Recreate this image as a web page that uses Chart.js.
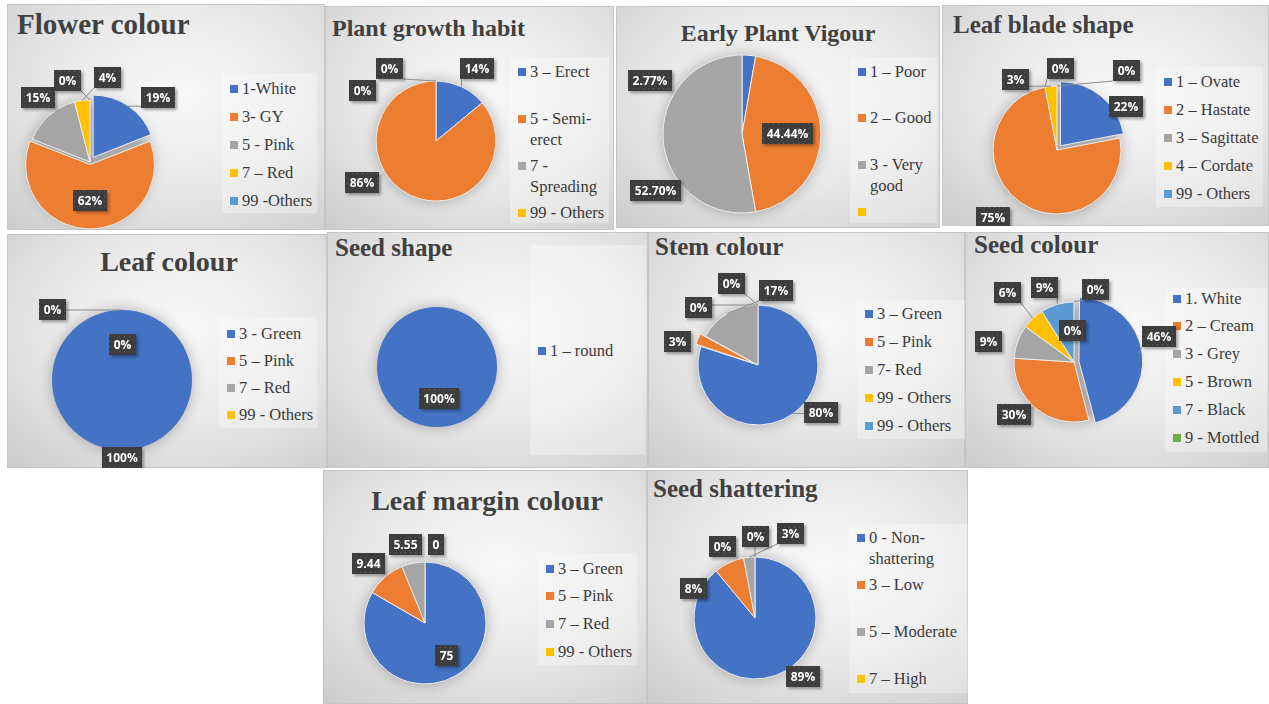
<!DOCTYPE html>
<html lang="en">
<head>
<meta charset="UTF-8">
<title>Descriptor pie charts</title>
<script src="https://cdn.jsdelivr.net/npm/chart.js"></script>
<style>
  * { margin: 0; padding: 0; box-sizing: border-box; }
  body {
    width: 1269px; height: 704px; background: #fff;
    position: relative; overflow: hidden;
    font-family: "Liberation Serif", "Times New Roman", serif;
  }
  .panel {
    position: absolute;
    border: 1px solid #c6c6c6;
    background: radial-gradient(ellipse 80% 80% at 55% 40%, #f8f8f8 0%, #e9e9e9 50%, #cdcdcd 100%);
  }
  .title {
    position: absolute; font-weight: bold; color: #404040;
    white-space: nowrap; line-height: 1;
  }
  .legend { position: absolute; background: rgba(255, 255, 255, 0.3); }
  .item {
    position: absolute; display: flex; align-items: flex-start;
    font-family: "Liberation Serif", serif;
    font-size: 16.5px; line-height: 21px; color: #3a3a3a;
  }
  .item i { flex: none; width: 8px; height: 8px; margin: 7px 4px 0 0; }
  canvas { position: absolute; }
</style>
</head>
<body>
<script>
// values
const flowerCategories = ['1-White', '3- GY', '5 - Pink', '7 – Red', '99 -Others'];
const flowerValues = [19, 62, 15, 4, 0];

const habitCategories = ['3 – Erect', '5 - Semi-erect', '7 - Spreading', '99 - Others'];
const habitValues = [14, 86, 0, 0];

const vigourCategories = ['1 – Poor', '2 – Good', '3 - Very good', ''];
const vigourValues = [2.77, 44.44, 52.70];

const bladeCategories = ['1 – Ovate', '2 – Hastate', '3 – Sagittate', '4 – Cordate', '99 - Others'];
const bladeValues = [22, 75, 0, 3, 0];

const leafCategories = ['3 - Green', '5 – Pink', '7 – Red', '99 - Others'];
const leafValues = [100, 0, 0];

const seedShapeCategories = ['1 – round'];
const seedShapeValues = [100];

const stemCategories = ['3 – Green', '5 – Pink', '7- Red', '99 - Others', '99 - Others'];
const stemValues = [80, 3, 17, 0, 0];

const seedColourCategories = ['1. White', '2 – Cream', '3 - Grey', '5 - Brown', '7 - Black', '9 - Mottled'];
const seedColourValues = [46, 30, 9, 6, 9, 0, 0];

const marginCategories = ['3 – Green', '5 – Pink', '7 – Red', '99 - Others'];
const marginValues = [75, 9.44, 5.55, 0];

const shatterCategories = ['0 - Non-shattering', '3 – Low', '5 – Moderate', '7 – High'];
const shatterValues = [89, 8, 3, 0, 0];

const palette = ['#4472C4', '#ED7D31', '#A5A5A5', '#FFC000', '#5B9BD5', '#70AD47', '#264478'];

const pct = v => v + '%';

// layout: panel rect, title, pie centre/radius, label offsets from centre, legend box
const panels = [
  { title: 'Flower colour', size: 29, tx: 17, ty: 10, rect: [7, 4, 318, 226],
    cats: flowerCategories, vals: flowerValues, fmt: pct,
    pie: [90, 162, 62], offset: [22, 10, 0, 0, 0],
    at: [[68, -65], [0, 38], [-52, -65], [17, -85], [-23, -82]], lines: [0, 3, 4],
    legend: [222, 73, 95, 140], first: 88, pitch: 28 },
  { title: 'Plant growth habit', size: 24, tx: 332, ty: 16, rect: [325, 6, 289, 224],
    cats: habitCategories, vals: habitValues, fmt: pct,
    pie: [436, 141, 60],
    at: [[41, -73], [-74, 41], [-74, -51], [-47, -73]], lines: [0, 3],
    legend: [510, 57, 99, 166], first: 71, pitch: 47 },
  { title: 'Early Plant Vigour', size: 24, tx: 778, ty: 21, center: true, rect: [616, 6, 324, 222],
    cats: vigourCategories, vals: vigourValues, fmt: v => v.toFixed(2) + '%',
    pie: [742, 134, 79],
    at: [[-92, -54], [45, -1], [-87, 56]], lines: [],
    legend: [850, 57, 87, 166], first: 71, pitch: 46.7 },
  { title: 'Leaf blade shape', size: 25, tx: 953, ty: 12, rect: [942, 5, 327, 221],
    cats: bladeCategories, vals: bladeValues, fmt: pct,
    pie: [1057, 150, 64], offset: [22, 0, 0, 0, 0],
    at: [[69, -44], [-64, 67], [3, -82], [-42, -71], [69, -80]], lines: [2, 3, 4],
    legend: [1156, 67, 107, 140], first: 81, pitch: 28 },
  { title: 'Leaf colour', size: 28, tx: 169, ty: 248, center: true, rect: [7, 234, 320, 234],
    cats: leafCategories, vals: leafValues, fmt: pct,
    pie: [122, 380, 70],
    at: [[0, 77], [0, -36], [-70, -71]], lines: [2],
    legend: [219, 317, 98, 111], first: 333, pitch: 27 },
  { title: 'Seed shape', size: 25, tx: 335, ty: 235, rect: [327, 232, 321, 236],
    cats: seedShapeCategories, vals: seedShapeValues, fmt: pct,
    pie: [437, 367, 60],
    at: [[2, 31]], lines: [],
    legend: [530, 245, 115, 210], first: 350, pitch: 0 },
  { title: 'Stem colour', size: 25, tx: 655, ty: 234, rect: [648, 232, 317, 236],
    cats: stemCategories, vals: stemValues, fmt: pct,
    pie: [758, 365, 60], offset: [0, 12, 0, 0, 0],
    at: [[63, 47], [-81, -24], [18, -75], [-60, -58], [-27, -82]], lines: [0, 2, 3, 4],
    legend: [857, 300, 109, 139], first: 313, pitch: 28 },
  { title: 'Seed colour', size: 25, tx: 974, ty: 232, rect: [965, 232, 304, 236],
    cats: seedColourCategories, vals: seedColourValues, fmt: pct,
    pie: [1074, 362, 60], offset: [20, 0, 0, 0, 0, 0, 0],
    at: [[85, -26], [-60, 52], [-86, -21], [-67, -70], [-30, -75], [21, -73], [-2, -32]], lines: [0, 3, 4, 5],
    legend: [1165, 288, 102, 164], first: 298, pitch: 27.8 },
  { title: 'Leaf margin colour', size: 28, tx: 487, ty: 487, center: true, rect: [323, 470, 324, 234],
    cats: marginCategories, vals: marginValues, fmt: v => String(v),
    pie: [425, 623, 61],
    at: [[21, 32], [-57, -60], [-20, -79], [11, -79]], lines: [],
    legend: [538, 553, 99, 112], first: 568, pitch: 27.7 },
  { title: 'Seed shattering', size: 25, tx: 653, ty: 476, rect: [647, 470, 321, 234],
    cats: shatterCategories, vals: shatterValues, fmt: pct,
    pie: [755, 618, 61],
    at: [[48, 58], [-62, -30], [35, -85], [0, -82], [-33, -72]], lines: [2, 3],
    legend: [849, 524, 121, 169], first: 537, pitch: 47 }
];

// dotted dark fill for the data label boxes
const dotCanvas = document.createElement('canvas');
dotCanvas.width = 5; dotCanvas.height = 5;
const dctx = dotCanvas.getContext('2d');
dctx.fillStyle = '#3d3d3d'; dctx.fillRect(0, 0, 5, 5);
dctx.fillStyle = '#5e5e5e'; dctx.fillRect(2, 2, 1, 1);

function labelPlugin(p) {
  return {
    id: 'boxLabels',
    beforeDatasetsDraw(chart) {
      // soft shadow round the pie
      const arc = chart.getDatasetMeta(0).data[0];
      const ctx = chart.ctx;
      ctx.save();
      ctx.shadowColor = 'rgba(0,0,0,0.28)';
      ctx.shadowBlur = 14;
      ctx.shadowOffsetX = 3000;
      ctx.beginPath();
      ctx.arc(arc.x - 3000, arc.y, arc.outerRadius, 0, Math.PI * 2);
      ctx.fillStyle = '#000';
      ctx.fill();
      ctx.restore();
    },
    afterDatasetsDraw(chart) {
      const ctx = chart.ctx;
      const arcs = chart.getDatasetMeta(0).data;
      const ds = chart.data.datasets[0];
      const offs = ds.offset || [];
      const dots = ctx.createPattern(dotCanvas, 'repeat');
      ctx.save();
      ctx.font = 'bold 12px "Open Sans"';
      arcs.forEach((arc, i) => {
        const d = p.at[i];
        if (!d) return;
        const text = p.fmt(ds.data[i]);
        const w = Math.round(ctx.measureText(text).width) + 9, h = 21;
        const bx = Math.round(arc.x + d[0] - w / 2), by = Math.round(arc.y + d[1] - h / 2);
        if (p.lines.includes(i)) {
          const mid = (arc.startAngle + arc.endAngle) / 2;
          const rr = arc.outerRadius + (offs[i] || 0) / 4;
          const ex = arc.x + Math.cos(mid) * rr, ey = arc.y + Math.sin(mid) * rr;
          const sx = Math.min(Math.max(ex, bx), bx + w), sy = Math.min(Math.max(ey, by), by + h);
          ctx.strokeStyle = '#8a8a8a';
          ctx.lineWidth = 1;
          ctx.beginPath();
          ctx.moveTo(sx, sy);
          ctx.lineTo(ex, ey);
          ctx.stroke();
        }
        ctx.save();
        ctx.shadowColor = 'rgba(0,0,0,0.35)';
        ctx.shadowBlur = 3;
        ctx.shadowOffsetX = 2;
        ctx.shadowOffsetY = 2;
        ctx.fillStyle = dots;
        ctx.fillRect(bx, by, w, h);
        ctx.restore();
        ctx.fillStyle = '#fff';
        ctx.textAlign = 'center';
        ctx.textBaseline = 'middle';
        ctx.fillText(text, bx + w / 2, by + h / 2 + 1);
      });
      ctx.restore();
    }
  };
}

function el(cls, x, y, w, h) {
  const e = document.createElement('div');
  e.className = cls;
  e.style.left = x + 'px';
  e.style.top = y + 'px';
  if (w) e.style.width = w + 'px';
  if (h) e.style.height = h + 'px';
  document.body.appendChild(e);
  return e;
}

panels.forEach(p => {
  const [px, py, pw, ph] = p.rect;
  el('panel', px, py, pw, ph);

  const t = el('title', p.tx, p.ty);
  t.textContent = p.title;
  t.style.fontSize = p.size + 'px';
  if (p.center) t.style.transform = 'translateX(-50%)';

  const [lx, ly, lw, lh] = p.legend;
  el('legend', lx, ly, lw, lh);
  p.cats.forEach((c, i) => {
    const it = el('item', lx + 8, p.first - 10.5 + i * p.pitch, lw - 10);
    it.innerHTML = '<i style="background:' + palette[i] + '"></i><span>' + c + '</span>';
  });

  // pie placed so the chart area centre lands on the pie centre
  const [cx, cy, r] = p.pie;
  const lcx = cx - px, lcy = cy - py;
  const padding = {
    left: lcx > pw / 2 ? 2 * lcx - pw : 0,
    right: lcx > pw / 2 ? 0 : pw - 2 * lcx,
    top: lcy > ph / 2 ? 2 * lcy - ph : 0,
    bottom: lcy > ph / 2 ? 0 : ph - 2 * lcy
  };
  const canvas = document.createElement('canvas');
  canvas.width = pw;
  canvas.height = ph;
  canvas.style.left = px + 'px';
  canvas.style.top = py + 'px';
  document.body.appendChild(canvas);

  const total = p.vals.reduce((a, b) => a + b, 0);
  new Chart(canvas, {
    type: 'pie',
    data: {
      labels: p.vals.map((v, i) => p.cats[i] || ''),
      datasets: [{
        data: p.vals,
        backgroundColor: palette.slice(0, p.vals.length),
        borderColor: '#ececec',
        // no edge stroke on empty or whole slices
        borderWidth: p.vals.map(v => (v > 0 && v < total ? 1 : 0)),
        offset: p.offset || 0,
        radius: r
      }]
    },
    options: {
      responsive: false,
      animation: false,
      devicePixelRatio: 1,
      events: [],
      layout: { padding: padding },
      plugins: { legend: { display: false }, tooltip: { enabled: false } }
    },
    plugins: [labelPlugin(p)]
  });
});
</script>
</body>
</html>
